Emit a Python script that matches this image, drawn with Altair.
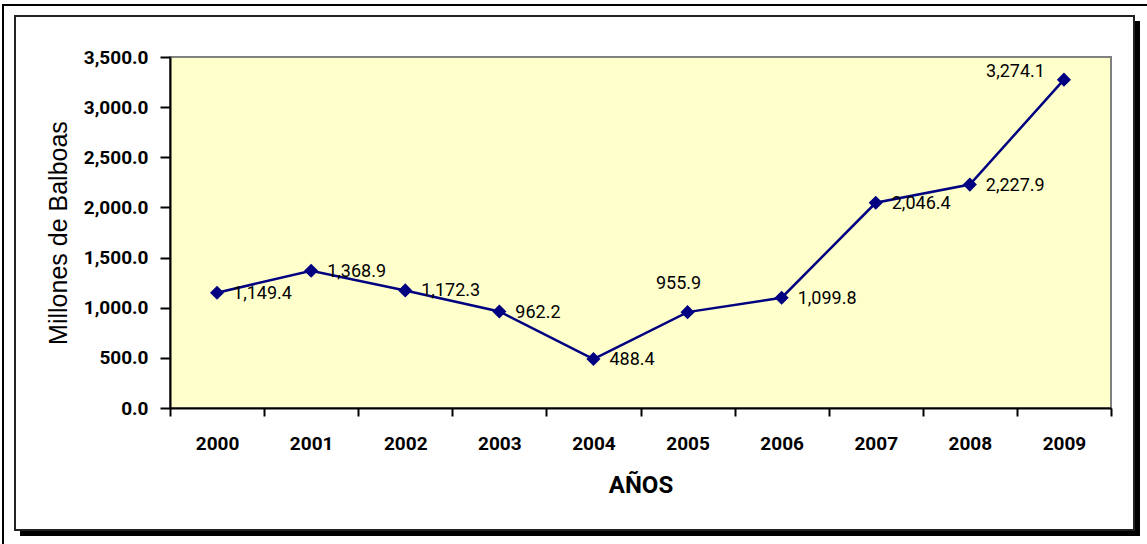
import altair as alt
import pandas as pd

years = ["2000", "2001", "2002", "2003", "2004", "2005", "2006", "2007", "2008", "2009"]
values = [1149.4, 1368.9, 1172.3, 962.2, 488.4, 955.9, 1099.8, 2046.4, 2227.9, 3274.1]
labels = ["1,149.4", "1,368.9", "1,172.3", "962.2", "488.4", "955.9", "1,099.8", "2,046.4", "2,227.9", "3,274.1"]
y_ticks = [0, 500, 1000, 1500, 2000, 2500, 3000, 3500]

df = pd.DataFrame({"year": years, "value": values, "label": labels})

NARROW = "Roboto, 'Liberation Sans Narrow', sans-serif"
W, H = 941, 351
OX, OY = 170, 57  # plot origin in page pixels

x_enc = alt.X("year:O", title="AÑOS",
              scale=alt.Scale(type="band", paddingInner=0, paddingOuter=0),
              axis=alt.Axis(labelAngle=0, tickBand="extent", tickSize=8, tickWidth=2,
                            domainColor="black", domainWidth=2, tickColor="black",
                            labelFont=NARROW, labelFontSize=19, labelFontWeight="bold",
                            labelPadding=18, titleFont=NARROW,
                            titleFontSize=24, titleFontWeight="bold", titlePadding=20,
                            labelColor="black", titleColor="black", zindex=2))
y_enc = alt.Y("value:Q", title="Millones de Balboas",
              scale=alt.Scale(domain=[0, 3500], nice=False),
              axis=alt.Axis(values=y_ticks, format=",.1f", tickSize=10, tickWidth=2,
                            domainColor="black", domainWidth=2, tickColor="black",
                            labelFont=NARROW, labelFontSize=19, labelFontWeight="bold",
                            labelPadding=12, titleFont="'Liberation Sans', Arial, sans-serif",
                            titleFontSize=25, titleFontWeight="normal", titlePadding=12,
                            labelColor="black", titleColor="black", grid=False, zindex=2))

base = alt.Chart(df)


def frame(x1, y1, x2, y2, **kw):
    return base.mark_rect(**kw).encode(
        x=alt.value(x1 - OX), x2=alt.value(x2 - OX),
        y=alt.value(y1 - OY), y2=alt.value(y2 - OY))


outer = frame(3, 5, 1160, 560, fill=None, stroke="black", strokeWidth=2)
shadow = frame(20, 21, 1140, 536, fill="black")
inner = frame(15, 16, 1134, 530, fill="white", stroke="#222222", strokeWidth=2)
plotbg = frame(OX, OY, OX + W, OY + H, fill="#FFFFCC", stroke="#808080", strokeWidth=2)

line = base.mark_line(color="#000080", strokeWidth=2.5).encode(x=x_enc, y=y_enc)
pts = base.mark_point(shape="diamond", filled=True, color="#000080", size=200, opacity=1).encode(x="year:O", y="value:Q")

txt_style = dict(font=NARROW, fontSize=18, color="black")
t_right = base.transform_filter(
    "datum.year != '2005' && datum.year != '2009'"
).mark_text(align="left", baseline="middle", dx=16, dy=1, **txt_style).encode(
    x="year:O", y="value:Q", text="label:N")
t_above = base.transform_filter("datum.year == '2005'").mark_text(
    align="center", baseline="middle", dx=-9, dy=-28, **txt_style).encode(
    x="year:O", y="value:Q", text="label:N")
t_left = base.transform_filter("datum.year == '2009'").mark_text(
    align="right", baseline="middle", dx=-19, dy=-8, **txt_style).encode(
    x="year:O", y="value:Q", text="label:N")

chart = alt.layer(outer, shadow, inner, plotbg, line, pts, t_right, t_above, t_left).properties(
    width=W, height=H,
    autosize=alt.AutoSizeParams(type="none"),
    padding={"left": OX, "top": OY, "right": 1147 - OX - W, "bottom": 544 - OY - H},
    background="white",
).configure_view(stroke=None)

chart.save("out.html", embed_options={"renderer": "svg", "actions": False})
